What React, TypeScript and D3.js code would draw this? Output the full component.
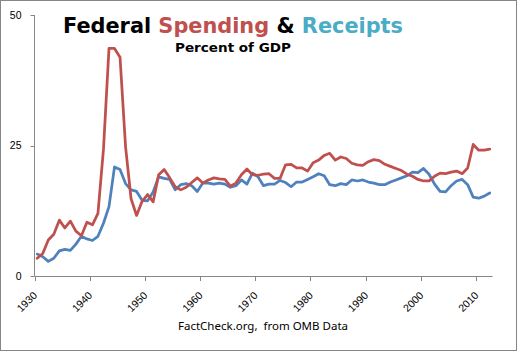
import React, { useRef, useEffect } from 'react';
import * as d3 from 'd3';

// fiscal years shown on the category axis
const years: number[] = d3.range(1930, 2013);

// outlays, percent of GDP
const spending: number[] = [
  3.4, 4.3, 6.9, 8.0, 10.7, 9.2, 10.5, 8.6, 7.7, 10.3,
  9.8, 12.0, 24.3, 43.6, 43.6, 41.9, 24.8, 14.8, 11.6, 14.3,
  15.6, 14.2, 19.4, 20.4, 18.8, 17.1, 16.5, 17.0, 17.9, 18.8,
  17.8, 18.4, 18.8, 18.6, 18.5, 17.2, 17.8, 19.4, 20.5, 19.4,
  19.3, 19.5, 19.6, 18.7, 18.7, 21.3, 21.4, 20.7, 20.7, 20.1,
  21.7, 22.2, 23.1, 23.5, 22.2, 22.8, 22.5, 21.6, 21.3, 21.2,
  21.9, 22.3, 22.1, 21.4, 21.0, 20.6, 20.2, 19.5, 19.1, 18.5,
  18.2, 18.2, 19.1, 19.7, 19.6, 19.9, 20.1, 19.6, 20.7, 25.2,
  24.1, 24.1, 24.3,
];

// receipts, percent of GDP
const receipts: number[] = [
  4.2, 3.7, 2.8, 3.4, 4.8, 5.1, 4.9, 6.1, 7.6, 7.1,
  6.8, 7.6, 10.1, 13.3, 20.9, 20.4, 17.7, 16.5, 16.2, 14.5,
  14.4, 16.1, 19.0, 18.7, 18.5, 16.5, 17.5, 17.7, 17.3, 16.2,
  17.8, 17.8, 17.6, 17.8, 17.6, 17.0, 17.3, 18.4, 17.6, 19.7,
  19.0, 17.3, 17.6, 17.6, 18.3, 17.9, 17.1, 18.0, 18.0, 18.5,
  19.0, 19.6, 19.2, 17.5, 17.3, 17.7, 17.5, 18.4, 18.2, 18.4,
  18.0, 17.8, 17.5, 17.5, 18.0, 18.4, 18.8, 19.2, 19.9, 19.8,
  20.6, 19.5, 17.6, 16.2, 16.1, 17.3, 18.2, 18.5, 17.5, 15.1,
  14.9, 15.3, 15.9,
];

const yTicks: number[] = [0, 25, 50];
const xTickYears: number[] = [1930, 1940, 1950, 1960, 1970, 1980, 1990, 2000, 2010];

const W = 519;
const H = 352;

const App = () => {
  const svgRef = useRef<SVGSVGElement>(null);

  useEffect(() => {
    const svg = d3.select(svgRef.current);
    svg.selectAll('*').remove();

    const axisColor = '#868686';

    const x = d3.scaleBand<number>()
      .domain(years)
      .range([34.5, 492.5])
      .padding(0);

    const y = d3.scaleLinear()
      .domain([0, 50])
      .range([276, 15]);

    const cx = (yr: number) => (x(yr) as number) + x.bandwidth() / 2;

    // outer frame
    svg.append('rect')
      .attr('x', 0.5).attr('y', 0.5)
      .attr('width', 516).attr('height', 350)
      .attr('fill', '#fff')
      .attr('stroke', axisColor);

    // y axis
    const yAxis = svg.append('g').attr('transform', 'translate(34.5,0)');
    yAxis.append('line')
      .attr('y1', y(50)).attr('y2', y(0))
      .attr('stroke', axisColor);
    yAxis.selectAll('.yt')
      .data(yTicks)
      .enter()
      .append('line')
      .attr('x1', -4).attr('x2', 0)
      .attr('y1', d => Math.round(y(d)) + 0.5)
      .attr('y2', d => Math.round(y(d)) + 0.5)
      .attr('stroke', axisColor);
    yAxis.selectAll('.yl')
      .data(yTicks)
      .enter()
      .append('text')
      .attr('x', -13)
      .attr('y', d => y(d))
      .attr('dy', '0.35em')
      .attr('text-anchor', 'end')
      .attr('font-family', 'Liberation Sans, Arial, sans-serif')
      .attr('font-size', '10.5px')
      .attr('fill', '#000')
      .text(d => d);

    // x axis
    const xAxis = svg.append('g');
    xAxis.append('line')
      .attr('x1', 34.5).attr('x2', 492.5)
      .attr('y1', 276.5).attr('y2', 276.5)
      .attr('stroke', axisColor);
    xAxis.selectAll('.xt')
      .data(xTickYears)
      .enter()
      .append('line')
      .attr('x1', d => Math.round(x(d) as number) + 0.5)
      .attr('x2', d => Math.round(x(d) as number) + 0.5)
      .attr('y1', 276.5).attr('y2', 281)
      .attr('stroke', axisColor);
    xAxis.selectAll('.xl')
      .data(xTickYears)
      .enter()
      .append('text')
      .attr('transform', d => `translate(${cx(d) + 0.5},296) rotate(-45)`)
      .attr('text-anchor', 'end')
      .attr('font-family', 'Liberation Sans, Arial, sans-serif')
      .attr('font-size', '10.5px')
      .attr('fill', '#000')
      .text(d => d);

    // series
    const line = (vals: number[]) => d3.line<number>()
      .x((_, i) => cx(years[i]))
      .y(d => y(d))(vals);

    svg.append('path')
      .attr('d', line(receipts))
      .attr('fill', 'none')
      .attr('stroke', '#4F81BD')
      .attr('stroke-width', 2.75)
      .attr('stroke-linejoin', 'round')
      .attr('stroke-linecap', 'round');

    svg.append('path')
      .attr('d', line(spending))
      .attr('fill', 'none')
      .attr('stroke', '#C0504D')
      .attr('stroke-width', 2.75)
      .attr('stroke-linejoin', 'round')
      .attr('stroke-linecap', 'round');

    // title
    const title = svg.append('text')
      .attr('x', 63).attr('y', 33)
      .attr('font-family', 'DejaVu Sans, Verdana, sans-serif')
      .attr('font-weight', 'bold')
      .attr('font-size', '20.5px')
      .attr('textLength', 340)
      .attr('lengthAdjust', 'spacingAndGlyphs');
    title.append('tspan').attr('fill', '#000').text('Federal ');
    title.append('tspan').attr('fill', '#C0504D').text('Spending');
    title.append('tspan').attr('fill', '#000').text(' & ');
    title.append('tspan').attr('fill', '#4BACC6').text('Receipts');

    svg.append('text')
      .attr('x', 175).attr('y', 51.5)
      .attr('font-family', 'DejaVu Sans, Verdana, sans-serif')
      .attr('font-weight', 'bold')
      .attr('font-size', '12.5px')
      .attr('textLength', 116)
      .attr('lengthAdjust', 'spacingAndGlyphs')
      .attr('fill', '#000')
      .text('Percent of GDP');

    // source note
    svg.append('text')
      .attr('x', 178).attr('y', 330)
      .attr('font-family', 'Noto Sans, sans-serif')
      .attr('font-size', '11.5px')
      .attr('textLength', 170)
      .attr('lengthAdjust', 'spacingAndGlyphs')
      .attr('fill', '#000')
      .style('white-space', 'pre')
      .text('FactCheck.org,  from OMB Data');
  }, []);

  return (
    <svg
      ref={svgRef}
      width={W}
      height={H}
      style={{ position: 'absolute', left: 0, top: 0, display: 'block' }}
    />
  );
};

export default App;
